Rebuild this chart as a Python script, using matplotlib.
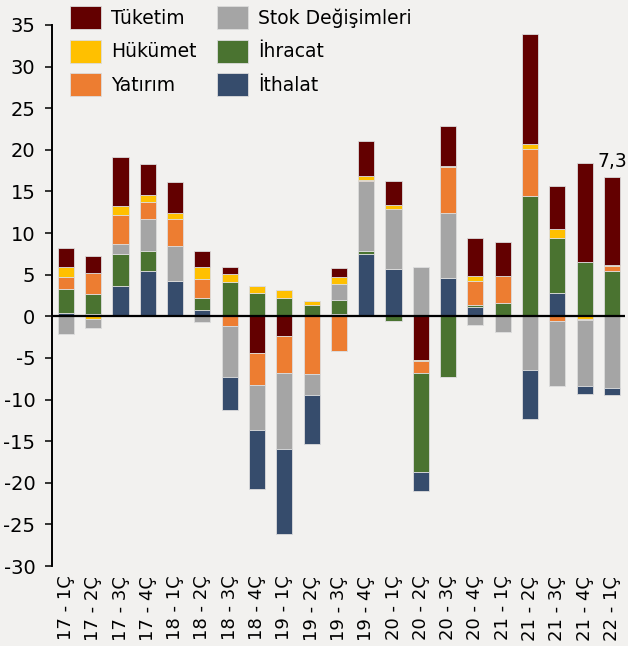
import matplotlib
matplotlib.use("Agg")
import matplotlib.pyplot as plt
import numpy as np

# GSYH büyümesine katkılar (puan), çeyrekler
quarters = ['17 - 1Ç', '17 - 2Ç', '17 - 3Ç', '17 - 4Ç', '18 - 1Ç', '18 - 2Ç', '18 - 3Ç',
            '18 - 4Ç', '19 - 1Ç', '19 - 2Ç', '19 - 3Ç', '19 - 4Ç', '20 - 1Ç', '20 - 2Ç',
            '20 - 3Ç', '20 - 4Ç', '21 - 1Ç', '21 - 2Ç', '21 - 3Ç', '21 - 4Ç', '22 - 1Ç']

tuketim = [2.3, 2.0, 5.9, 3.7, 3.7, 1.9, 0.8, -4.4, -2.4, 0.0, 1.1, 4.3, 2.9, -5.3,
           4.8, 4.5, 4.0, 13.2, 5.2, 11.9, 10.5]
hukumet = [1.2, -0.3, 1.1, 0.9, 0.7, 1.4, 1.0, 0.8, 1.0, 0.4, 0.8, 0.4, 0.5, -0.1,
           0.2, 0.7, 0.0, 0.6, 1.1, -0.3, 0.2]
yatirim = [1.4, 2.5, 3.5, 2.0, 3.2, 2.3, -1.2, -3.8, -4.4, -6.9, -4.2, 0.2, 0.0, -1.4,
           5.5, 2.9, 3.3, 5.7, -0.6, -0.2, 0.5]
stok = [-2.1, -1.1, 1.2, 3.9, 4.3, -0.7, -6.1, -5.4, -9.2, -2.6, 2.0, 8.4, 7.2, 5.9,
        7.8, -1.0, -1.9, -6.5, -7.8, -7.9, -8.6]
ihracat = [2.9, 2.4, 3.8, 2.3, 0.0, 1.5, 4.1, 2.8, 2.2, 1.4, 1.6, 0.3, -0.6, -11.9,
           -7.3, 0.2, 1.4, 14.4, 6.6, 6.5, 5.5]
ithalat = [0.4, 0.3, 3.7, 5.5, 4.2, 0.7, -3.9, -7.1, -10.1, -5.9, 0.3, 7.5, 5.7, -2.3,
           4.6, 1.1, 0.2, -5.8, 2.8, -0.9, -0.8]

son_buyume = "7,3"

series = {
    'Tüketim': (tuketim, '#630000'),
    'Hükümet': (hukumet, '#ffc000'),
    'Yatırım': (yatirim, '#ed7d31'),
    'Stok Değişimleri': (stok, '#a5a5a5'),
    'İhracat': (ihracat, '#4a7330'),
    'İthalat': (ithalat, '#364c6c'),
}

bg = '#f2f1ef'
plt.rcParams['font.family'] = ['DejaVu Sans']
plt.rcParams['axes.unicode_minus'] = False

fig = plt.figure(figsize=(6.28, 6.46), dpi=100, facecolor=bg)
ax = fig.add_axes([52 / 628, 1 - 566 / 646, (625 - 52) / 628, (566 - 25) / 646])
ax.set_facecolor(bg)

x = np.arange(len(quarters))
w = 0.59
handles = {}

# pozitif kısım: sıfırdan yukarı
pos_order = ['İthalat', 'İhracat', 'Stok Değişimleri', 'Yatırım', 'Hükümet', 'Tüketim']
bottom = np.zeros(len(x))
for name in pos_order:
    vals, col = series[name]
    v = np.clip(np.array(vals), 0, None)
    b = ax.bar(x, v, w, bottom=bottom, color=col, edgecolor='#dcdcdc', linewidth=0.6)
    handles[name] = b
    bottom += v

# negatif kısım: sıfırdan aşağı
neg_order = ['Tüketim', 'Hükümet', 'Yatırım', 'Stok Değişimleri', 'İhracat', 'İthalat']
bottom = np.zeros(len(x))
for name in neg_order:
    vals, col = series[name]
    v = np.clip(np.array(vals), None, 0)
    ax.bar(x, v, w, bottom=bottom, color=col, edgecolor='#dcdcdc', linewidth=0.6)
    bottom += v

ax.axhline(0, color='black', lw=1.6, zorder=5)

ax.set_xlim(-0.51, 20.48)
ax.set_ylim(-30, 35)
ax.set_yticks(range(-30, 36, 5))
ax.set_xticks(x)
ax.set_xticklabels(quarters, rotation=90, fontsize=13)
ax.tick_params(axis='x', length=0, pad=7)
ax.tick_params(axis='y', direction='out', length=5, width=1.1, labelsize=14, pad=7)
for s in ['top', 'right', 'bottom']:
    ax.spines[s].set_visible(False)
ax.spines['left'].set_linewidth(1.4)

ax.text(20, 18.6, son_buyume, ha='center', va='center', fontsize=13.5)

names = ['Tüketim', 'Hükümet', 'Yatırım', 'Stok Değişimleri', 'İhracat', 'İthalat']
leg = ax.legend([handles[n] for n in names], names, ncol=2, loc='upper left',
                bbox_to_anchor=(70 / 628, 1 - 6 / 646), bbox_transform=fig.transFigure,
                frameon=False, fontsize=13.5, handlelength=1.66, handleheight=1.53,
                handletextpad=0.53, labelspacing=0.55, columnspacing=1.1,
                borderpad=0, borderaxespad=0)

fig.savefig('out.png', dpi=100, facecolor=bg)
